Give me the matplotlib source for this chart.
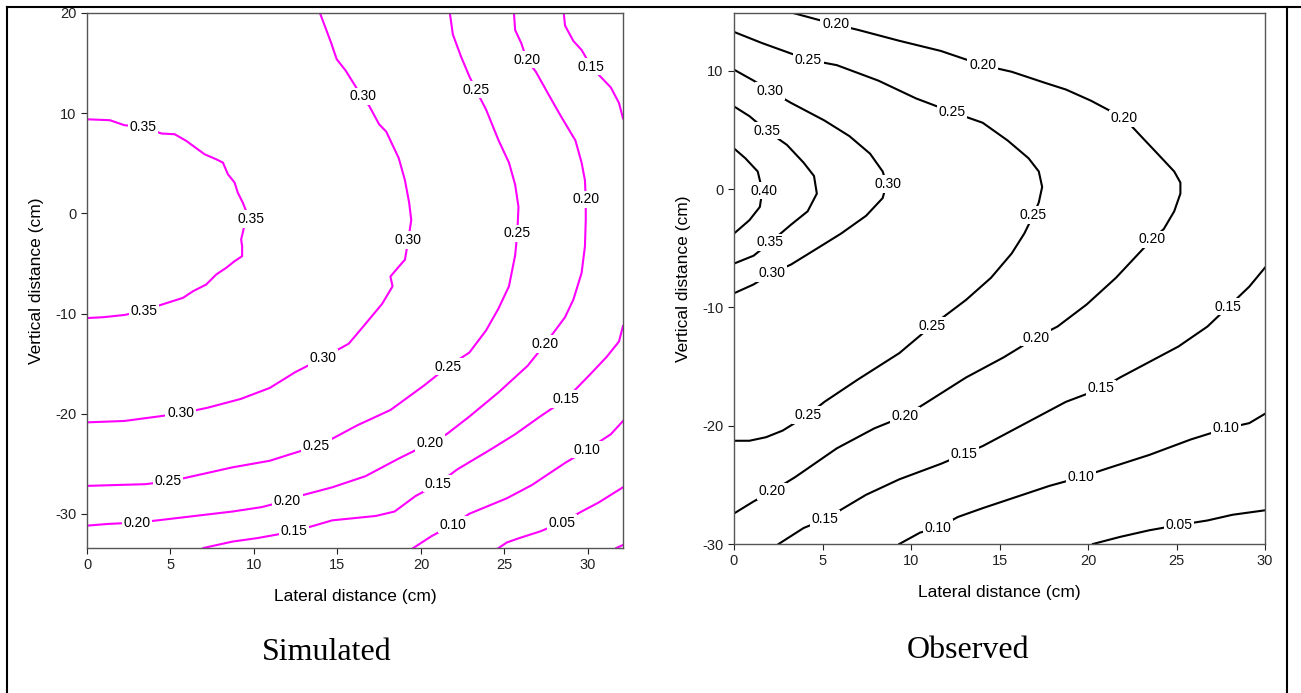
import matplotlib
matplotlib.use("Agg")
import matplotlib.pyplot as plt
from matplotlib.lines import Line2D

plt.rcParams['font.family'] = ['Liberation Sans', 'DejaVu Sans']
plt.rcParams['axes.unicode_minus'] = False

# ---- Simulated panel: contour lines, (lateral, vertical) in cm
sim_035 = [(0, 9.39), (1.37, 9.3), (2.24, 8.8), (3.36, 8.64), (4.46, 7.97), (5.25, 7.9),
           (5.95, 7.23), (7.04, 5.9), (7.74, 5.4), (8.14, 5.07), (8.44, 3.9), (8.84, 3.07),
           (9.03, 2.07), (9.33, 1.07), (9.49, 0.4), (9.5, -0.6), (9.33, -1.93), (9.23, -2.6),
           (9.29, -3.27), (9.29, -4.27), (8.84, -4.77), (8.34, -5.43), (7.74, -6.1),
           (7.14, -7.1), (6.35, -7.77), (5.75, -8.43), (4.36, -9.17), (3.41, -9.74),
           (2.24, -10.14), (1.0, -10.36), (0, -10.45)]
sim_030 = [(13.95, 20.0), (14.31, 18.4), (14.61, 17.07), (14.95, 15.4), (15.5, 14.23),
           (16.06, 12.73), (16.46, 11.63), (16.9, 10.73), (17.49, 8.9), (17.92, 8.16),
           (18.67, 5.51), (19.04, 3.31), (19.29, 1.1), (19.42, -0.66), (19.24, -2.65),
           (19.04, -4.63), (18.8, -5.07), (18.17, -6.31), (18.3, -7.28), (17.67, -9.04),
           (16.68, -11.02), (15.68, -13.0), (14.14, -14.42), (12.45, -15.87), (10.95, -17.42),
           (9.21, -18.52), (7.22, -19.4), (5.6, -19.97), (4.23, -20.28), (2.24, -20.72),
           (0, -20.86)]
sim_025 = [(21.73, 20.0), (21.91, 17.86), (22.4, 15.65), (22.9, 13.67), (23.28, 12.35),
           (23.9, 10.36), (24.65, 7.28), (25.27, 5.07), (25.64, 2.87), (25.84, 0.66),
           (25.77, -1.98), (25.64, -4.19), (25.27, -7.28), (24.65, -9.48), (23.9, -11.68),
           (22.9, -13.89), (21.61, -15.3), (20.17, -17.2), (18.18, -19.62), (16.18, -21.16),
           (14.69, -22.49), (13.74, -23.24), (12.2, -24.03), (10.95, -24.69), (8.71, -25.35),
           (5.73, -26.46), (4.85, -26.76), (3.49, -27.03), (0, -27.2)]
sim_020 = [(25.57, 20.0), (25.64, 18.3), (26.01, 16.98), (26.34, 15.34), (26.89, 14.11),
           (27.63, 11.9), (28.38, 9.7), (29.25, 7.28), (29.62, 5.07), (29.82, 3.31),
           (29.87, 1.41), (29.87, -0.66), (29.82, -3.31), (29.62, -5.95), (29.13, -8.6),
           (28.63, -10.36), (27.43, -13.05), (26.39, -15.21), (24.65, -17.86), (22.9, -20.28),
           (21.53, -22.05), (20.54, -22.93), (18.67, -24.47), (16.68, -26.23), (14.69, -27.34),
           (12.7, -28.22), (12.0, -28.66), (10.46, -29.32), (8.71, -29.76), (6.47, -30.2),
           (4.23, -30.64), (2.99, -30.86), (1.24, -31.0), (0, -31.17)]
sim_015_top = [(28.55, 20.0), (28.63, 18.74), (29.13, 17.2), (29.62, 16.31), (30.2, 14.64),
               (30.74, 13.67), (31.37, 12.57), (31.86, 11.02), (32.1, 9.48)]
sim_015 = [(32.1, -11.24), (31.86, -12.79), (31.12, -14.33), (30.12, -16.09), (28.7, -18.52),
           (27.13, -20.28), (25.64, -22.05), (24.15, -23.59), (22.16, -25.57), (21.04, -26.98),
           (19.67, -28.22), (18.42, -29.76), (17.3, -30.2), (14.69, -30.64), (12.4, -31.75),
           (10.21, -32.41), (8.71, -32.76), (6.97, -33.4)]
sim_010 = [(32.1, -20.72), (31.37, -22.05), (29.95, -23.59), (28.63, -24.91), (26.64, -27.12),
           (25.14, -28.44), (22.9, -29.98), (21.91, -31.08), (20.66, -32.19), (19.54, -33.4)]
sim_005 = [(32.1, -27.34), (30.62, -28.88), (29.62, -29.76), (28.43, -30.86), (27.13, -31.75),
           (25.89, -32.41), (25.14, -32.85), (24.65, -33.4)]
sim_000 = [(31.7, -33.4), (32.1, -33.1)]
sim_lines = [sim_035, sim_030, sim_025, sim_020, sim_015_top, sim_015, sim_010, sim_005, sim_000]

sim_labels = [("0.35", 3.36, 8.64), ("0.35", 9.83, -0.57), ("0.35", 3.41, -9.74),
              ("0.30", 16.55, 11.68), ("0.30", 19.24, -2.65), ("0.30", 14.14, -14.42),
              ("0.30", 5.6, -19.97),
              ("0.25", 23.28, 12.35), ("0.25", 25.77, -1.98), ("0.25", 21.61, -15.3),
              ("0.25", 13.74, -23.24), ("0.25", 4.85, -26.76),
              ("0.20", 26.34, 15.34), ("0.20", 29.87, 1.41), ("0.20", 27.43, -13.05),
              ("0.20", 20.54, -22.93), ("0.20", 12.0, -28.66), ("0.20", 2.99, -30.86),
              ("0.15", 30.2, 14.64), ("0.15", 28.7, -18.52), ("0.15", 21.04, -26.98),
              ("0.15", 12.4, -31.75),
              ("0.10", 29.95, -23.59), ("0.10", 21.91, -31.08),
              ("0.05", 28.43, -30.86)]

# ---- Observed panel
obs_020 = [(3.34, 14.9), (5.74, 13.93), (6.99, 13.48), (9.34, 12.55), (11.69, 11.69),
           (14.05, 10.49), (15.69, 9.93), (17.58, 8.99), (18.75, 8.43), (20.16, 7.49),
           (22.05, 5.99), (22.99, 4.49), (23.93, 3.0), (24.87, 1.5), (25.22, 0.56),
           (25.22, -0.37), (24.87, -1.87), (24.28, -3.37), (23.62, -4.23), (22.75, -5.62),
           (21.58, -7.49), (19.93, -9.74), (18.28, -11.61), (17.06, -12.55), (15.22, -14.23),
           (13.11, -15.92), (10.75, -18.16), (9.65, -19.18), (7.93, -20.22), (5.81, -21.91),
           (3.46, -24.34), (2.16, -25.54), (1.11, -26.4), (0, -27.42)]
obs_025 = [(0, 13.3), (1.58, 12.36), (4.21, 10.94), (5.81, 10.49), (8.16, 9.18), (10.28, 7.68),
           (12.33, 6.52), (14.05, 5.62), (15.46, 4.12), (16.64, 2.62), (17.22, 1.5),
           (17.41, 0.19), (17.22, -1.12), (16.92, -2.17), (16.4, -3.75), (15.69, -5.43),
           (14.52, -7.49), (13.11, -9.36), (11.18, -11.54), (9.34, -13.86), (6.99, -16.1),
           (5.11, -17.98), (4.16, -19.1), (2.75, -20.41), (1.81, -20.97), (0.87, -21.27),
           (0, -21.27)]
obs_030 = [(0, 10.11), (1.11, 9.18), (2.05, 8.31), (3.22, 7.3), (5.11, 5.81), (6.52, 4.49),
           (7.69, 3.0), (8.4, 1.5), (8.62, 0.45), (8.4, -0.75), (7.46, -2.25), (6.05, -3.75),
           (4.64, -5.06), (3.22, -6.37), (2.12, -7.12), (1.11, -8.05), (0, -8.8)]
obs_035 = [(0, 7.0), (0.87, 6.18), (1.86, 4.94), (2.99, 3.75), (3.93, 2.25), (4.52, 1.12),
           (4.68, -0.37), (4.16, -1.87), (3.22, -3.0), (2.05, -4.49), (1.11, -5.62), (0, -6.29)]
obs_040 = [(0, 3.45), (0.64, 2.62), (1.34, 1.5), (1.6, -0.11), (1.46, -1.5), (0.87, -2.62),
           (0, -3.75)]
obs_015 = [(30, -6.63), (29.11, -8.24), (27.93, -9.93), (26.75, -11.61), (25.11, -13.3),
           (23.46, -14.61), (21.81, -15.92), (20.75, -16.85), (18.75, -17.98), (16.4, -19.85),
           (14.05, -21.72), (12.99, -22.4), (11.69, -23.22), (9.34, -24.53), (7.46, -25.84),
           (5.15, -27.9), (3.93, -28.65), (2.52, -30.0)]
obs_010 = [(30, -18.99), (29.11, -19.78), (27.81, -20.22), (25.81, -21.16), (23.46, -22.47),
           (21.11, -23.6), (19.62, -24.34), (17.81, -25.09), (15.93, -26.03), (14.05, -26.97),
           (12.64, -27.72), (11.53, -28.65), (10.52, -29.03), (9.34, -30.0)]
obs_005 = [(30, -27.15), (28.16, -27.53), (26.75, -28.01), (25.15, -28.39), (23.46, -28.84),
           (21.81, -29.4), (20.28, -30.0)]
obs_lines = [obs_020, obs_025, obs_030, obs_035, obs_040, obs_015, obs_010, obs_005]

obs_labels = [("0.20", 5.74, 13.93), ("0.20", 14.05, 10.49), ("0.20", 22.05, 5.99),
              ("0.20", 23.62, -4.23), ("0.20", 17.06, -12.55), ("0.20", 9.65, -19.18),
              ("0.20", 2.16, -25.54),
              ("0.25", 4.21, 10.94), ("0.25", 12.33, 6.52), ("0.25", 16.92, -2.17),
              ("0.25", 11.18, -11.54), ("0.25", 4.16, -19.1),
              ("0.30", 2.05, 8.31), ("0.30", 8.68, 0.45), ("0.30", 2.12, -7.12),
              ("0.35", 1.86, 4.94), ("0.35", 2.05, -4.49),
              ("0.40", 1.69, -0.11),
              ("0.15", 27.93, -9.93), ("0.15", 20.75, -16.85), ("0.15", 12.99, -22.4),
              ("0.15", 5.15, -27.9),
              ("0.10", 27.81, -20.22), ("0.10", 19.62, -24.34), ("0.10", 11.53, -28.65),
              ("0.05", 25.15, -28.39)]

sim_xticks = [0, 5, 10, 15, 20, 25, 30]
sim_yticks = [-30, -20, -10, 0, 10, 20]
obs_xticks = [0, 5, 10, 15, 20, 25, 30]
obs_yticks = [-30, -20, -10, 0, 10]


def draw_panel(ax, lines, labels, color, xlim, ylim, xticks, yticks):
  for pts in lines:
    xs, ys = zip(*pts)
    ax.plot(xs, ys, color=color, lw=1.5, solid_joinstyle='round', zorder=2)
  for txt, x, y in labels:
    ax.text(x, y, txt, ha='center', va='center', fontsize=10, color='black', zorder=3,
            bbox=dict(boxstyle='square,pad=0.12', fc='white', ec='none'), clip_on=True)
  ax.set_xlim(*xlim)
  ax.set_ylim(*ylim)
  ax.set_xticks(xticks)
  ax.set_yticks(yticks)
  ax.tick_params(direction='out', length=4, width=0.8, labelsize=10.5, colors='#222222')
  for sp in ax.spines.values():
    sp.set_color('#555555')
    sp.set_linewidth(1.0)
  ax.set_xlabel("Lateral distance (cm)", fontsize=12.5, labelpad=12)
  ax.set_ylabel("Vertical distance (cm)", fontsize=12.5, labelpad=8)


fig = plt.figure(figsize=(13.01, 6.93), dpi=100)
W, H = 1301., 693.

ax1 = fig.add_axes([87 / W, 1 - 548 / H, 536 / W, 535 / H])
draw_panel(ax1, sim_lines, sim_labels, '#ff00ff', (0, 32.1), (-33.4, 20),
           sim_xticks, sim_yticks)

ax2 = fig.add_axes([734 / W, 1 - 544 / H, 531 / W, 531 / H])
draw_panel(ax2, obs_lines, obs_labels, 'black', (0, 30), (-30, 14.9),
           obs_xticks, obs_yticks)

fig.text(327 / W, 1 - 652 / H, "Simulated", ha='center', va='center', fontsize=23,
         family='Liberation Serif')
fig.text(968 / W, 1 - 650 / H, "Observed", ha='center', va='center', fontsize=23,
         family='Liberation Serif')

# table-cell border around the figure
for (x0, y0, x1, y1) in [(7, 7, 1301, 7), (7, 7, 7, 693), (1287, 7, 1287, 693)]:
  fig.add_artist(Line2D([x0 / W, x1 / W], [1 - y0 / H, 1 - y1 / H], color='black', lw=1.5))

fig.savefig("out.png", dpi=100)
